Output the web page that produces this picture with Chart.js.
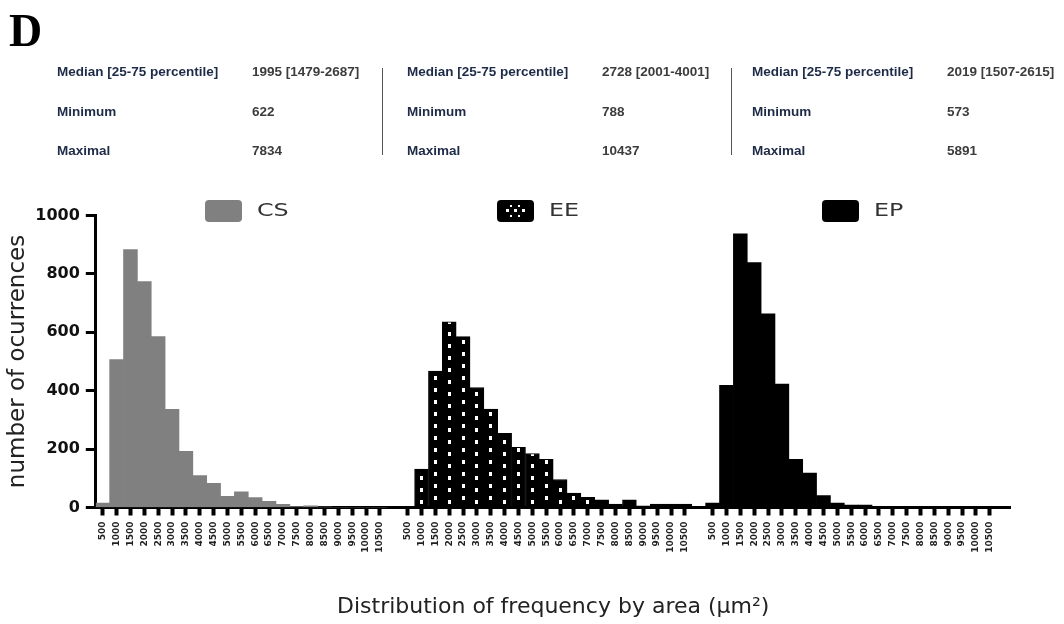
<!DOCTYPE html>
<html>
<head>
<meta charset="utf-8">
<script src="https://cdn.jsdelivr.net/npm/chart.js"></script>
<style>
  html, body { margin: 0; padding: 0; background: #fff; }
  #wrap { position: relative; width: 1064px; height: 624px; overflow: hidden; }
  #wrap canvas { position: absolute; left: 0; top: 0; }
  #letter { position: absolute; left: 9px; top: 8px; font-family: "Liberation Serif", serif; font-weight: bold; font-size: 46px; line-height: 46px; color: #000; }
  .t { position: absolute; font-family: "Liberation Sans", Arial, sans-serif; font-weight: bold; font-size: 13.5px; line-height: 16px; white-space: nowrap; }
  .lab { color: #1e2b47; }
  .val { color: #3c3c3c; }
  .sep { position: absolute; top: 68px; width: 1px; height: 87px; background: #555; }
</style>
</head>
<body>
<div id="wrap">
  <canvas id="histo" width="1064" height="624"></canvas>
  <div id="letter">D</div>
  <div id="stats"></div>
</div>
<script>
// bins of the histogram (area, µm2)
const binLabels = ['500','1000','1500','2000','2500','3000','3500','4000','4500','5000','5500',
                   '6000','6500','7000','7500','8000','8500','9000','9500','10000','10500'];
const groupNames = ['CS', 'EE', 'EP'];
// number of occurrences per bin
const csCounts = [15, 507, 883, 774, 585, 336, 192, 109, 83, 38, 54, 34, 21, 11, 3, 6, 1, 0, 0, 0, 0];
const eeCounts = [3, 132, 467, 636, 585, 411, 337, 254, 206, 185, 165, 96, 49, 35, 26, 12, 26, 6, 12, 12, 12];
const epCounts = [15, 418, 937, 839, 663, 423, 165, 118, 41, 15, 8, 8, 2, 1, 1, 0, 0, 0, 0, 0, 0];
const yTicks = [0, 200, 400, 600, 800, 1000];

// summary table above the chart
const statNames = ['Median [25-75 percentile]', 'Minimum', 'Maximal'];
const statCS = ['1995 [1479-2687]', '622', '7834'];
const statEE = ['2728 [2001-4001]', '788', '10437'];
const statEP = ['2019 [1507-2615]', '573', '5891'];

// table layout
const stats = document.getElementById('stats');
const panelX = [57, 407, 752];
const rowY = [72, 112, 151];
[statCS, statEE, statEP].forEach(function (vals, p) {
  statNames.forEach(function (name, r) {
    const a = document.createElement('div');
    a.className = 't lab';
    a.style.left = panelX[p] + 'px';
    a.style.top = (rowY[r] - 8) + 'px';
    a.textContent = name;
    stats.appendChild(a);
    const b = document.createElement('div');
    b.className = 't val';
    b.style.left = (panelX[p] + 195) + 'px';
    b.style.top = (rowY[r] - 8) + 'px';
    b.textContent = vals[r];
    stats.appendChild(b);
  });
});
[382, 731].forEach(function (x) {
  const s = document.createElement('div');
  s.className = 'sep';
  s.style.left = x + 'px';
  stats.appendChild(s);
});

// x categories: each group followed by one empty slot
const labels = [];
groupNames.forEach(function () { labels.push(...binLabels, ''); });

function place(counts, g) {
  const out = labels.map(function () { return null; });
  counts.forEach(function (v, i) { out[g * (binLabels.length + 1) + i] = v; });
  return out;
}

// black with white dots for EE
const tile = document.createElement('canvas');
tile.width = 14; tile.height = 12;
const tc = tile.getContext('2d');
tc.fillStyle = '#000'; tc.fillRect(0, 0, 14, 12);
tc.fillStyle = '#fff'; tc.fillRect(6, 4, 3, 4);

function eeFill(c) {
  if (c.type !== 'data') return '#000';
  const pat = c.chart.ctx.createPattern(tile, 'repeat');
  const x = c.chart.scales.x.getPixelForValue(c.dataIndex);
  pat.setTransform(new DOMMatrix([1, 0, 0, 1, Math.round(x - 7.5), (c.dataIndex % 2) ? 4 : 0]));
  return pat;
}

// legend drawn over each group
const legendAt = [7.4, 28.45, 51.9];
const legendFill = ['#808080', '#000', '#000'];
const groupLegend = {
  id: 'groupLegend',
  afterDraw(chart) {
    const ctx = chart.ctx;
    const xs = chart.scales.x;
    chart.data.datasets.forEach(function (ds, i) {
      const bx = Math.round(xs.getPixelForValue(legendAt[i]));
      const by = 200, bw = 37, bh = 22;
      ctx.save();
      ctx.beginPath();
      ctx.roundRect(bx, by, bw, bh, 4);
      ctx.fillStyle = legendFill[i];
      ctx.fill();
      if (i === 1) {
        ctx.fillStyle = '#fff';
        [9, 17, 25].forEach(function (dx) { ctx.fillRect(bx + dx, by + 9, 3, 3); });
        [13, 21].forEach(function (dx) { ctx.fillRect(bx + dx, by + 5, 2, 2); ctx.fillRect(bx + dx, by + 15, 2, 2); });
      }
      ctx.fillStyle = '#333';
      ctx.font = '17px "DejaVu Sans", sans-serif';
      ctx.textBaseline = 'middle';
      ctx.translate(bx + bw + 15, by + bh / 2 + 1);
      ctx.scale(1.4, 1);
      ctx.fillText(ds.label, 0, 0);
      ctx.restore();
    });
  }
};

new Chart(document.getElementById('histo'), {
  type: 'bar',
  data: {
    labels: labels,
    datasets: [
      { label: groupNames[0], data: place(csCounts, 0), backgroundColor: '#808080' },
      { label: groupNames[1], data: place(eeCounts, 1), backgroundColor: eeFill, borderColor: '#000', borderWidth: 1 },
      { label: groupNames[2], data: place(epCounts, 2), backgroundColor: '#000' }
    ]
  },
  options: {
    responsive: false,
    animation: false,
    events: [],
    layout: { padding: { top: 215.5, right: 53.4, bottom: 0, left: 0 } },
    datasets: { bar: { grouped: false, barPercentage: 1, categoryPercentage: 1, borderWidth: 0 } },
    plugins: { legend: { display: false }, tooltip: { enabled: false } },
    scales: {
      x: {
        grid: {
          offset: false, drawOnChartArea: false, drawTicks: true, tickLength: 8, tickWidth: 4,
          tickColor: function (c) { return labels[c.index] ? '#000' : 'rgba(0,0,0,0)'; }
        },
        border: { display: true, color: '#000', width: 3 },
        ticks: {
          autoSkip: false, maxRotation: 90, minRotation: 90, padding: 6, color: '#222',
          font: { family: '"DejaVu Sans", sans-serif', size: 9, weight: 'bold' }
        },
        title: {
          display: true, text: 'Distribution of frequency by area (μm²)', color: '#222',
          font: { family: '"DejaVu Sans", sans-serif', size: 22 }, padding: { top: 0, bottom: 4 }
        },
        afterFit: function (s) { s.height = 116.5; }
      },
      y: {
        min: 0, max: 1000,
        afterBuildTicks: function (s) { s.ticks = yTicks.map(function (v) { return { value: v }; }); },
        grid: { drawOnChartArea: false, drawTicks: true, tickLength: 10, tickWidth: 3, tickColor: '#000' },
        border: { display: true, color: '#000', width: 3 },
        ticks: {
          padding: 6, color: '#111', font: { family: '"DejaVu Sans", sans-serif', size: 16, weight: 'bold' },
          callback: function (v) { return String(v); }
        },
        title: {
          display: true, text: 'number of ocurrences', color: '#222',
          font: { family: '"DejaVu Sans", sans-serif', size: 23 }, padding: { top: 4, bottom: 0 }
        },
        afterFit: function (s) { s.width = 95.8; }
      }
    }
  },
  plugins: [groupLegend]
});
</script>
</body>
</html>
